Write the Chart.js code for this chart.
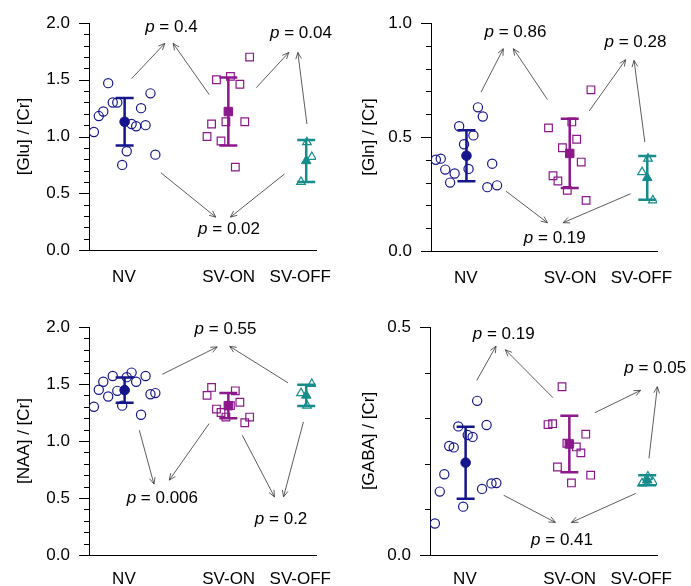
<!DOCTYPE html>
<html>
<head>
<meta charset="utf-8">
<script src="https://cdn.jsdelivr.net/npm/chart.js@4.4.0/dist/chart.umd.min.js"></script>
<style>
    body { margin: 0; background: #fff; width: 691px; height: 586px; position: relative; overflow: hidden; }
    canvas { position: absolute; }
</style>
</head>
<body>
<canvas id="glu" width="345" height="293" style="left:0;top:0"></canvas>
<canvas id="gln" width="346" height="293" style="left:345px;top:0"></canvas>
<canvas id="naa" width="345" height="293" style="left:0;top:293px"></canvas>
<canvas id="gaba" width="346" height="293" style="left:345px;top:293px"></canvas>
<script>
// groups and x placement (jittered individual points)
const groups = ['NV', 'SV-ON', 'SV-OFF'];
const groupTicks = [1, 4, 6.05];
const meanX = [1.02, 3.99, 6.22];
const nvX = [0.14, 0.28, 0.41, 0.55, 0.68, 0.81, 0.95, 1.08, 1.22, 1.35, 1.49, 1.62, 1.76, 1.90];
const onX = [3.38, 3.51, 3.65, 3.78, 3.92, 4.05, 4.19, 4.32, 4.46, 4.60];
const offX = [6.07, 6.24, 6.38];

// [Glu]/[Cr]
const gluNV = [1.04, 1.18, 1.22, 1.47, 1.30, 1.30, 0.75, 0.87, 1.11, 1.09, 1.25, 1.10, 1.38, 0.84];
const gluON = [1.00, 1.11, 1.50, 0.96, 1.13, 1.53, 0.73, 1.46, 1.13, 1.70];
const gluOFF = [0.60, 0.95, 0.82];
const gluMean = [1.13, 1.22, 0.785];
const gluErr = [0.21, 0.30, 0.185];
const gluArrows = [[1.22, 1.51, 2.17, 1.82], [3.44, 1.37, 2.41, 1.82], [4.79, 1.43, 5.72, 1.74],
    [6.24, 1.11, 5.98, 1.74], [2.06, 0.68, 3.63, 0.29], [5.6, 0.67, 4.05, 0.29]];
const gluP = [['0.4', 2.36, 1.96], ['0.04', 6.07, 1.91], ['0.02', 4.01, 0.18]];

// [Gln]/[Cr]
const glnNV = [0.40, 0.405, 0.357, 0.30, 0.34, 0.547, 0.468, 0.36, 0.507, 0.63, 0.59, 0.28, 0.383, 0.288];
const glnON = [0.54, 0.33, 0.307, 0.453, 0.266, 0.566, 0.49, 0.39, 0.222, 0.707];
const glnOFF = [0.346, 0.405, 0.222];
const glnMean = [0.418, 0.428, 0.321];
const glnErr = [0.112, 0.152, 0.096];
const glnArrows = [[1.44, 0.697, 2.08, 0.887], [3.35, 0.664, 2.37, 0.887], [4.55, 0.614, 5.60, 0.839],
    [6.15, 0.478, 5.84, 0.836], [2.16, 0.262, 3.35, 0.124], [5.74, 0.251, 3.80, 0.124]];
const glnP = [['0.86', 2.43, 0.96], ['0.28', 5.88, 0.917], ['0.19', 3.56, 0.054]];

// [NAA]/[Cr]
const naaNV = [1.30, 1.45, 1.52, 1.39, 1.57, 1.44, 1.31, 1.56, 1.60, 1.52, 1.23, 1.57, 1.41, 1.42];
const naaON = [1.40, 1.47, 1.28, 1.25, 1.21, 1.31, 1.44, 1.34, 1.16, 1.21];
const naaOFF = [1.42, 1.31, 1.50];
const naaMean = [1.446, 1.31, 1.40];
const naaErr = [0.11, 0.11, 0.093];
const naaArrows = [[2.10, 1.585, 3.67, 1.825], [5.70, 1.51, 4.03, 1.83], [1.44, 1.095, 1.86, 0.622],
    [3.44, 1.153, 2.30, 0.657], [4.39, 1.05, 5.31, 0.51], [6.14, 1.168, 5.57, 0.51]];
const naaP = [['0.55', 3.91, 1.98], ['0.006', 2.10, 0.50], ['0.2', 5.50, 0.31]];

// [GABA]/[Cr]
const gabaNV = [0.069, 0.139, 0.177, 0.239, 0.236, 0.282, 0.106, 0.263, 0.259, 0.338, 0.145, 0.285, 0.157, 0.158];
const gabaON = [0.286, 0.288, 0.193, 0.369, 0.245, 0.158, 0.237, 0.224, 0.265, 0.175];
const gabaOFF = [0.157, 0.172, 0.160];
const gabaMean = [0.2025, 0.2435, 0.164];
const gabaErr = [0.079, 0.062, 0.011];
const gabaArrows = [[1.34, 0.383, 1.89, 0.458], [3.52, 0.345, 2.16, 0.450], [4.72, 0.312, 6.03, 0.361],
    [6.27, 0.212, 6.51, 0.369], [2.11, 0.131, 3.59, 0.0715], [5.89, 0.135, 4.05, 0.0715]];
const gabaP = [['0.19', 2.11, 0.485], ['0.05', 6.45, 0.409], ['0.41', 3.78, 0.033]];

const colors = ['#16168c', '#8c188c', '#168c8c'];
const FONT = 'Arial, "Liberation Sans", sans-serif';

function pts(xs, ys) {
    return ys.map((y, i) => ({ x: xs[i], y: y }));
}

function makePanel(id, p) {
    const canvas = document.getElementById(id);
    const W = canvas.width, H = canvas.height;

    const extras = {
        id: 'extras' + id,
        afterDatasetsDraw(chart) {
            const ctx = chart.ctx;
            const xs = chart.scales.x, ys = chart.scales.y;

            // error bars (mean +/- err)
            p.mean.forEach((m, i) => {
                const x = xs.getPixelForValue(meanX[i]);
                const yt = ys.getPixelForValue(m + p.err[i]);
                const yb = ys.getPixelForValue(m - p.err[i]);
                ctx.save();
                ctx.strokeStyle = colors[i];
                ctx.lineWidth = 2.5;
                ctx.beginPath();
                ctx.moveTo(x, yt); ctx.lineTo(x, yb);
                ctx.moveTo(x - 9, yt); ctx.lineTo(x + 9, yt);
                ctx.moveTo(x - 9, yb); ctx.lineTo(x + 9, yb);
                ctx.stroke();
                ctx.restore();
            });

            // comparison arrows
            ctx.save();
            ctx.strokeStyle = '#333';
            ctx.lineWidth = 0.8;
            p.arrows.forEach(a => {
                const x1 = xs.getPixelForValue(a[0]), y1 = ys.getPixelForValue(a[1]);
                const x2 = xs.getPixelForValue(a[2]), y2 = ys.getPixelForValue(a[3]);
                const ang = Math.atan2(y2 - y1, x2 - x1);
                const hl = 7, ha = 0.42;
                ctx.beginPath();
                ctx.moveTo(x1, y1); ctx.lineTo(x2, y2);
                ctx.moveTo(x2 - hl * Math.cos(ang - ha), y2 - hl * Math.sin(ang - ha));
                ctx.lineTo(x2, y2);
                ctx.lineTo(x2 - hl * Math.cos(ang + ha), y2 - hl * Math.sin(ang + ha));
                ctx.stroke();
            });
            ctx.restore();

            // p-value labels
            ctx.save();
            ctx.fillStyle = '#000';
            ctx.textBaseline = 'middle';
            p.pvals.forEach(t => {
                const cx = xs.getPixelForValue(t[1]), cy = ys.getPixelForValue(t[2]);
                ctx.font = 'italic 17px ' + FONT;
                const w1 = ctx.measureText('p').width;
                ctx.font = '17px ' + FONT;
                const rest = ' = ' + t[0];
                const w2 = ctx.measureText(rest).width;
                let x0 = cx - (w1 + w2) / 2;
                ctx.font = 'italic 17px ' + FONT;
                ctx.fillText('p', x0, cy);
                ctx.font = '17px ' + FONT;
                ctx.fillText(rest, x0 + w1, cy);
            });
            ctx.restore();
        },
        afterDraw(chart) {
            // y tick marks: long at labelled values, short in between
            const ctx = chart.ctx;
            const ys = chart.scales.y;
            const left = chart.chartArea.left;
            ctx.save();
            ctx.strokeStyle = '#000';
            ctx.lineWidth = 1;
            ys.ticks.forEach(t => {
                const y = Math.round(ys.getPixelForValue(t.value)) + 0.5;
                const major = Math.abs(t.value / p.major - Math.round(t.value / p.major)) < 1e-6;
                ctx.beginPath();
                ctx.moveTo(left - (major ? 10 : 5), y);
                ctx.lineTo(left, y);
                ctx.stroke();
            });
            ctx.restore();
        }
    };

    return new Chart(canvas, {
        type: 'scatter',
        data: {
            datasets: [
                { data: pts(nvX, p.nv), pointStyle: 'circle', pointRadius: 4.6, borderColor: colors[0], backgroundColor: 'rgba(0,0,0,0)', borderWidth: 1.2 },
                { data: pts(onX, p.on), pointStyle: 'rect', pointRadius: 5.4, borderColor: colors[1], backgroundColor: 'rgba(0,0,0,0)', borderWidth: 1.2 },
                { data: pts(offX, p.off), pointStyle: 'triangle', pointRadius: 5, borderColor: colors[2], backgroundColor: 'rgba(0,0,0,0)', borderWidth: 1.2 },
                { data: [{ x: meanX[0], y: p.mean[0] }], pointStyle: 'circle', pointRadius: 4.8, borderColor: colors[0], backgroundColor: colors[0] },
                { data: [{ x: meanX[1], y: p.mean[1] }], pointStyle: 'rect', pointRadius: 6, borderColor: colors[1], backgroundColor: colors[1] },
                { data: [{ x: meanX[2], y: p.mean[2] }], pointStyle: 'triangle', pointRadius: 5.5, borderColor: colors[2], backgroundColor: colors[2] }
            ]
        },
        options: {
            responsive: false,
            animation: false,
            devicePixelRatio: 1,
            layout: { padding: { left: 0, top: p.area[2], right: W - p.area[1], bottom: 0 } },
            plugins: { legend: { display: false }, tooltip: { enabled: false } },
            scales: {
                x: {
                    type: 'linear',
                    min: 0,
                    max: 6.5,
                    grid: { display: false },
                    border: { display: true, color: '#000', width: 1 },
                    afterBuildTicks: scale => { scale.ticks = groupTicks.map(v => ({ value: v })); },
                    afterFit: scale => { scale.height = H - p.area[3]; },
                    ticks: {
                        autoSkip: false,
                        maxRotation: 0,
                        padding: p.labelPad,
                        color: '#000',
                        font: { size: 17, family: FONT },
                        callback: (v, i) => groups[i]
                    }
                },
                y: {
                    min: 0,
                    max: p.max,
                    grid: { display: false },
                    border: { display: true, color: '#000', width: 1 },
                    afterFit: scale => { scale.width = p.area[0]; },
                    title: {
                        display: true,
                        text: p.title,
                        color: '#000',
                        font: { size: 17, family: FONT },
                        padding: { top: 14, bottom: 0 }
                    },
                    ticks: {
                        stepSize: 0.1,
                        autoSkip: false,
                        maxTicksLimit: 100,
                        padding: 11,
                        color: '#000',
                        font: { size: 17, family: FONT },
                        callback: v => Math.abs(v / p.major - Math.round(v / p.major)) < 1e-6 ? v.toFixed(1) : ''
                    }
                }
            }
        },
        plugins: [extras]
    });
}

makePanel('glu', { title: '[Glu] / [Cr]', nv: gluNV, on: gluON, off: gluOFF, mean: gluMean, err: gluErr,
    arrows: gluArrows, pvals: gluP, max: 2, major: 0.5, area: [89, 316, 23, 250], labelPad: 9 });
makePanel('gln', { title: '[Gln] / [Cr]', nv: glnNV, on: glnON, off: glnOFF, mean: glnMean, err: glnErr,
    arrows: glnArrows, pvals: glnP, max: 1, major: 0.5, area: [86, 312, 23, 251], labelPad: 9 });
makePanel('naa', { title: '[NAA] / [Cr]', nv: naaNV, on: naaON, off: naaOFF, mean: naaMean, err: naaErr,
    arrows: naaArrows, pvals: naaP, max: 2, major: 0.5, area: [89, 316, 34, 262], labelPad: 6 });
makePanel('gaba', { title: '[GABA] / [Cr]', nv: gabaNV, on: gabaON, off: gabaOFF, mean: gabaMean, err: gabaErr,
    arrows: gabaArrows, pvals: gabaP, max: 0.5, major: 0.5, area: [85, 312, 34, 262], labelPad: 6 });
</script>
</body>
</html>
